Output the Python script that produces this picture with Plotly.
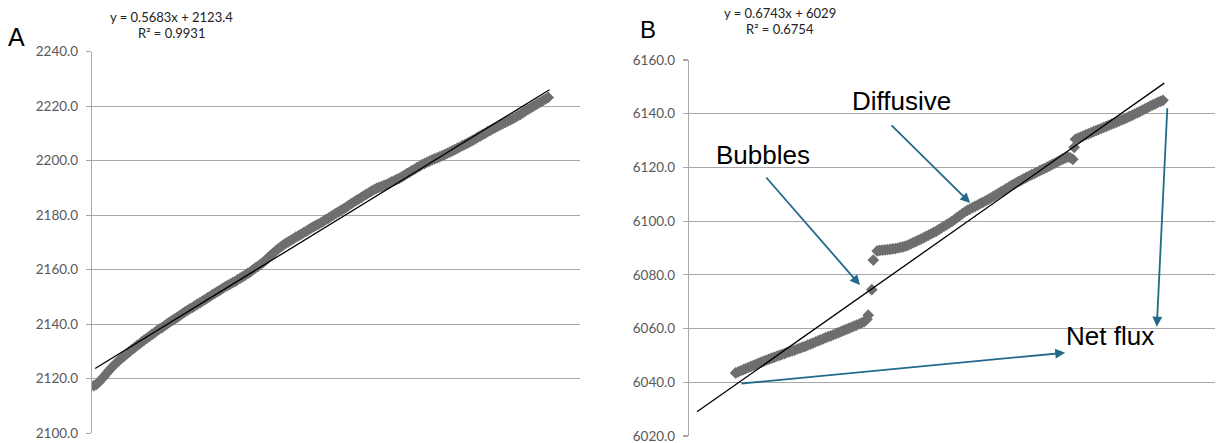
import plotly.graph_objects as go

W, H = 1219, 443

# ---------------- Panel A data ----------------
a_x = list(range(0, 181))
a_y = [2117.4, 2117.9, 2118.7, 2119.8, 2120.7, 2121.9, 2123.0, 2124.0, 2124.9, 2125.9,
       2126.7, 2127.5, 2128.2, 2129.1, 2129.8, 2130.6, 2131.3, 2132.1, 2132.7, 2133.5,
       2134.2, 2134.8, 2135.5, 2136.2, 2136.8, 2137.6, 2138.2, 2138.7, 2139.4, 2140.1,
       2140.7, 2141.3, 2141.9, 2142.5, 2143.1, 2143.8, 2144.4, 2145.0, 2145.6, 2146.1,
       2146.7, 2147.3, 2147.8, 2148.4, 2149.0, 2149.6, 2150.2, 2150.8, 2151.4, 2151.9,
       2152.5, 2153.1, 2153.7, 2154.2, 2154.7, 2155.2, 2155.7, 2156.3, 2156.9, 2157.4,
       2158.0, 2158.6, 2159.2, 2159.9, 2160.6, 2161.2, 2161.9, 2162.6, 2163.4, 2164.3,
       2165.2, 2166.0, 2166.8, 2167.6, 2168.3, 2169.0, 2169.6, 2170.2, 2170.7, 2171.3,
       2171.9, 2172.4, 2172.9, 2173.5, 2174.0, 2174.6, 2175.2, 2175.7, 2176.2, 2176.7,
       2177.2, 2177.8, 2178.4, 2178.9, 2179.5, 2180.1, 2180.7, 2181.2, 2181.8, 2182.3,
       2182.9, 2183.6, 2184.2, 2184.8, 2185.4, 2185.9, 2186.5, 2187.1, 2187.7, 2188.2,
       2188.8, 2189.3, 2189.8, 2190.2, 2190.5, 2190.9, 2191.2, 2191.7, 2192.2, 2192.6,
       2193.1, 2193.5, 2194.0, 2194.6, 2195.2, 2195.7, 2196.3, 2196.8, 2197.4, 2197.9,
       2198.5, 2198.9, 2199.4, 2199.8, 2200.3, 2200.6, 2201.0, 2201.4, 2201.8, 2202.2,
       2202.7, 2203.1, 2203.6, 2204.0, 2204.5, 2205.0, 2205.5, 2205.9, 2206.4, 2206.9,
       2207.4, 2207.9, 2208.5, 2209.0, 2209.5, 2210.0, 2210.6, 2211.1, 2211.6, 2212.1,
       2212.6, 2213.1, 2213.6, 2214.0, 2214.5, 2214.9, 2215.4, 2215.9, 2216.5, 2217.0,
       2217.6, 2218.2, 2218.8, 2219.3, 2219.9, 2220.4, 2221.0, 2221.5, 2222.1, 2222.6,
       2223.2]
a_slope, a_intercept, a_r2 = 0.5683, 2123.4, 0.9931
a_trend_x = [0.5, 180.5]

# ---------------- Panel B data ----------------
b_x = (list(range(15, 67)) + [66.5, 67.9, 68.5] + list(range(70, 147))
       + [146.5] + list(range(147, 182)))
b_y = [6043.5, 6043.9, 6044.3, 6044.7, 6045.1, 6045.5, 6045.9, 6046.3, 6046.7, 6047.1,
       6047.5, 6047.9, 6048.3, 6048.6, 6049.0, 6049.3, 6049.7, 6050.0, 6050.4, 6050.7,
       6051.1, 6051.4, 6051.7, 6052.0, 6052.4, 6052.7, 6053.1, 6053.4, 6053.8, 6054.2,
       6054.6, 6055.0, 6055.4, 6055.8, 6056.2, 6056.6, 6057.0, 6057.3, 6057.7, 6058.1,
       6058.5, 6058.9, 6059.3, 6059.7, 6060.1, 6060.5, 6060.9, 6061.3, 6061.7, 6062.1,
       6062.6, 6063.5,
       6065.0, 6074.5, 6085.5,
       6088.9, 6089.1, 6089.2, 6089.3, 6089.4, 6089.5, 6089.7, 6089.8, 6090.0, 6090.2,
       6090.4, 6090.7, 6091.1, 6091.5, 6092.0, 6092.4, 6092.9, 6093.3, 6093.8, 6094.3,
       6094.8, 6095.3, 6095.8, 6096.3, 6096.9, 6097.5, 6098.1, 6098.7, 6099.3, 6099.9,
       6100.6, 6101.3, 6102.0, 6102.7, 6103.4, 6104.0, 6104.5, 6105.0, 6105.5, 6106.0,
       6106.5, 6107.0, 6107.5, 6108.0, 6108.6, 6109.1, 6109.7, 6110.3, 6110.9, 6111.4,
       6112.0, 6112.6, 6113.2, 6113.7, 6114.3, 6114.8, 6115.3, 6115.8, 6116.3, 6116.8,
       6117.3, 6117.7, 6118.2, 6118.7, 6119.2, 6119.6, 6120.1, 6120.6, 6121.1, 6121.6,
       6122.1, 6122.6, 6123.1, 6123.5, 6123.9, 6123.6, 6123.0,
       6127.5,
       6130.5, 6130.9, 6131.3, 6131.7, 6132.1, 6132.5, 6132.9, 6133.3, 6133.7, 6134.1,
       6134.5, 6134.9, 6135.3, 6135.7, 6136.1, 6136.5, 6136.9, 6137.3, 6137.7, 6138.1,
       6138.5, 6139.0, 6139.4, 6139.9, 6140.3, 6140.8, 6141.3, 6141.8, 6142.3, 6142.8,
       6143.3, 6143.7, 6144.2, 6144.6, 6145.0]
b_slope, b_intercept, b_r2 = 0.6743, 6029, 0.6754
b_trend_x = [0, 181.5]

y_ticks_a = [2100, 2240, 20]
y_ticks_b = [6020, 6160, 20]

MARKER = "#6E6E6E"
GRID = "#A8A8A8"
ARROW = "#22698A"
TICKFONT = dict(family="Lato, Liberation Sans, sans-serif", size=13.5, color="#595959")

fig = go.Figure()
fig.add_trace(go.Scatter(x=a_x, y=a_y, mode="markers", xaxis="x", yaxis="y",
                         marker=dict(symbol="diamond", size=9, color=MARKER, line=dict(width=0))))
fig.add_trace(go.Scatter(x=a_trend_x, y=[a_slope * v + a_intercept for v in a_trend_x],
                         mode="lines", xaxis="x", yaxis="y", line=dict(color="black", width=1.3)))
fig.add_trace(go.Scatter(x=b_x, y=b_y, mode="markers", xaxis="x2", yaxis="y2",
                         marker=dict(symbol="diamond", size=9, color=MARKER, line=dict(width=0))))
fig.add_trace(go.Scatter(x=b_trend_x, y=[b_slope * v + b_intercept for v in b_trend_x],
                         mode="lines", xaxis="x2", yaxis="y2", line=dict(color="black", width=1.3)))


def xdom(p0, p1):
    return [p0 / W, p1 / W]


def ydom(top, bottom):
    return [1 - bottom / H, 1 - top / H]


def yaxis(rng, dom, anchor):
    return dict(range=[rng[0], rng[1]], tick0=rng[0], dtick=rng[2], tickformat=".1f",
                domain=dom, anchor=anchor, showgrid=True, gridcolor=GRID, gridwidth=1.2,
                showline=True, linecolor=GRID, linewidth=1.2, ticks="outside", ticklen=5,
                tickcolor=GRID, tickwidth=1.2, zeroline=False, tickfont=TICKFONT,
                ticklabelstandoff=5, ticklabeloverflow="allow", fixedrange=True,
                automargin=False)


fig.update_layout(
    width=W, height=H, margin=dict(l=0, r=0, t=0, b=0, pad=0), autosize=False,
    paper_bgcolor="white", plot_bgcolor="white", showlegend=False, hovermode=False,
    xaxis=dict(domain=xdom(92, 580), range=[-0.75, 192.6], visible=False, anchor="y",
               automargin=False, fixedrange=True),
    yaxis=yaxis(y_ticks_a, ydom(51.6, 433.1), "x"),
    xaxis2=dict(domain=xdom(689, 1215), range=[-3.1, 201.2], visible=False, anchor="y2",
                automargin=False, fixedrange=True),
    yaxis2=yaxis(y_ticks_b, ydom(60, 436), "x2"),
)

EQFONT = dict(family="Lato, Liberation Sans, sans-serif", size=13, color="#222222")
LBLFONT = dict(family="Liberation Sans, Arial, sans-serif", size=26, color="black")


def ptext(text, px, py, font, xanchor="center"):
    fig.add_annotation(text=text, x=px / W, y=1 - py / H, xref="paper", yref="paper",
                       xanchor=xanchor, yanchor="middle", showarrow=False, font=font)


ptext("A", 16.5, 37.5, dict(family="Liberation Sans, Arial, sans-serif", size=25, color="black"))
ptext("B", 647.5, 30, dict(family="Liberation Sans, Arial, sans-serif", size=24, color="black"))
ptext(f"y = {a_slope}x + {a_intercept}", 171.5, 17, EQFONT)
ptext(f"R² = {a_r2}", 171.5, 33, EQFONT)
ptext(f"y = {b_slope}x + {b_intercept}", 780, 13.5, EQFONT)
ptext(f"R² = {b_r2}", 780, 29, EQFONT)

# panel B labels (data coords)
for txt, x, y in [("Bubbles", 25.6, 6124.6), ("Diffusive", 79.3, 6144.7), ("Net flux", 160.4, 6057.2)]:
    fig.add_annotation(text=txt, x=x, y=y, xref="x2", yref="y2", showarrow=False,
                       xanchor="center", yanchor="middle", font=LBLFONT)

# arrows: (tail_x, tail_y, head_x, head_y)
for tx, ty, hx, hy in [(26.4, 6116.8, 63.3, 6076.2),
                       (75.0, 6136.2, 106.1, 6106.8),
                       (16.7, 6039.5, 143.0, 6051.0),
                       (182.7, 6142.6, 178.6, 6060.7)]:
    fig.add_annotation(text="", x=hx, y=hy, ax=tx, ay=ty, xref="x2", yref="y2",
                       axref="x2", ayref="y2", showarrow=True, arrowhead=2, arrowsize=1.1,
                       arrowwidth=1.8, arrowcolor=ARROW)

# remove the browser's default 8px body margin so the figure fills the window exactly
fig.write_html("out.html", config={"displayModeBar": False, "staticPlot": True},
               post_script="document.body.style.margin='0px';")
